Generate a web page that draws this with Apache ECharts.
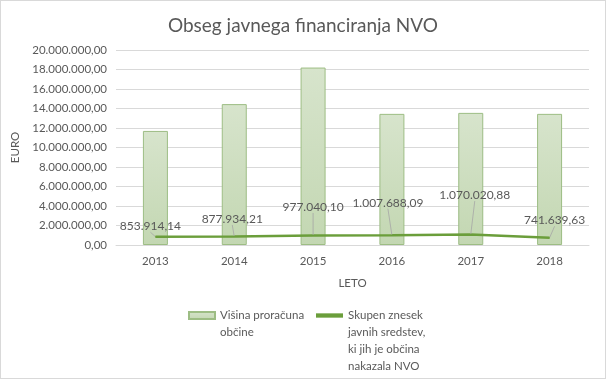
<!DOCTYPE html>
<html><head><meta charset="utf-8">
<script src="https://cdn.jsdelivr.net/npm/echarts@6/dist/echarts.min.js"></script>
<style>html,body{margin:0;padding:0;background:#fff}#c{width:606px;height:379px;box-sizing:border-box;border:1px solid #d9d9d9}</style>
</head><body><div id="c"></div>
<script>
const categories = ['2013','2014','2015','2016','2017','2018'];
const budget = [11700000, 14450000, 18200000, 13450000, 13550000, 13450000];
const funding = [853914.14, 877934.21, 977040.10, 1007688.09, 1070020.88, 741639.63];
const barName = 'Višina proračuna\nobčine';
const lineName = 'Skupen znesek\njavnih sredstev,\nki jih je občina\nnakazala NVO';

const labelShift = [[-5,-4],[-2,-11],[0,-22],[-4,-26],[4,-33],[5,-11]];
const font = 'Lato, "Open Sans", sans-serif';
const fs = 11.5;
const fmt = v => {
  const parts = v.toFixed(2).split('.');
  return parts[0].replace(/\B(?=(\d{3})+(?!\d))/g, '.') + ',' + parts[1];
};
// prepend blank lines so the icon lines up with the first text line
const topAlign = name => '\n'.repeat(name.split('\n').length - 1) + name;
const chart = echarts.init(document.getElementById('c'), null, {renderer:'canvas'});
chart.setOption({
  animation:false,
  textStyle:{fontFamily:font},
  title:{text:'Obseg javnega financiranja NVO',left:'center',top:10,
    textStyle:{fontFamily:font,fontSize:19,fontWeight:'normal',color:'#595959'}},
  grid:{left:115,right:16,top:49,bottom:133},
  legend:[{
    left:182,top:284,itemWidth:26,itemHeight:7,itemGap:20,formatter:topAlign,
    textStyle:{fontFamily:font,fontSize:fs,color:'#595959',lineHeight:17},
    data:[{name:barName,icon:'rect'}]
  },{
    left:310,top:250,itemWidth:27,itemHeight:7,formatter:topAlign,
    textStyle:{fontFamily:font,fontSize:fs,color:'#595959',lineHeight:17},
    data:[{name:lineName,icon:'path://M0,0L10,0L10,1.6L0,1.6Z'}]
  }],
  xAxis:{type:'category',data:categories,name:'LETO',nameLocation:'middle',nameGap:32,
    nameTextStyle:{fontFamily:font,fontSize:fs,color:'#595959'},
    axisLine:{lineStyle:{color:'#d9d9d9'}},axisTick:{show:false},
    axisLabel:{color:'#595959',fontSize:fs,margin:10}},
  yAxis:{type:'value',min:0,max:20000000,interval:2000000,name:'EURO',nameLocation:'middle',nameGap:84,
    nameTextStyle:{fontFamily:font,fontSize:fs,color:'#595959'},
    axisLine:{show:false},axisTick:{show:false},
    splitLine:{lineStyle:{color:'#d9d9d9'}},
    axisLabel:{color:'#595959',fontSize:fs,margin:9,formatter:v=>fmt(v)}},
  series:[{
    name:barName,type:'bar',data:budget,barWidth:25,
    itemStyle:{color:new echarts.graphic.LinearGradient(0,0,0,1,[{offset:0,color:'#d7e4cc'},{offset:1,color:'#c3d7b2'}]),
      borderColor:'#9dbd84',borderWidth:1}
  },{
    name:lineName,type:'line',data:funding,symbol:'circle',symbolSize:1,showSymbol:true,
    lineStyle:{color:'#6b9e3b',width:2.5},itemStyle:{color:'#6b9e3b'},
    label:{show:true,position:'top',distance:0,color:'#595959',fontSize:12,formatter:p=>fmt(p.value)},
    labelLine:{show:true,lineStyle:{color:'#a6a6a6',width:0.8}},
    labelLayout:p=>({dx:labelShift[p.dataIndex][0],dy:labelShift[p.dataIndex][1]})
  }]
});
</script></body></html>
